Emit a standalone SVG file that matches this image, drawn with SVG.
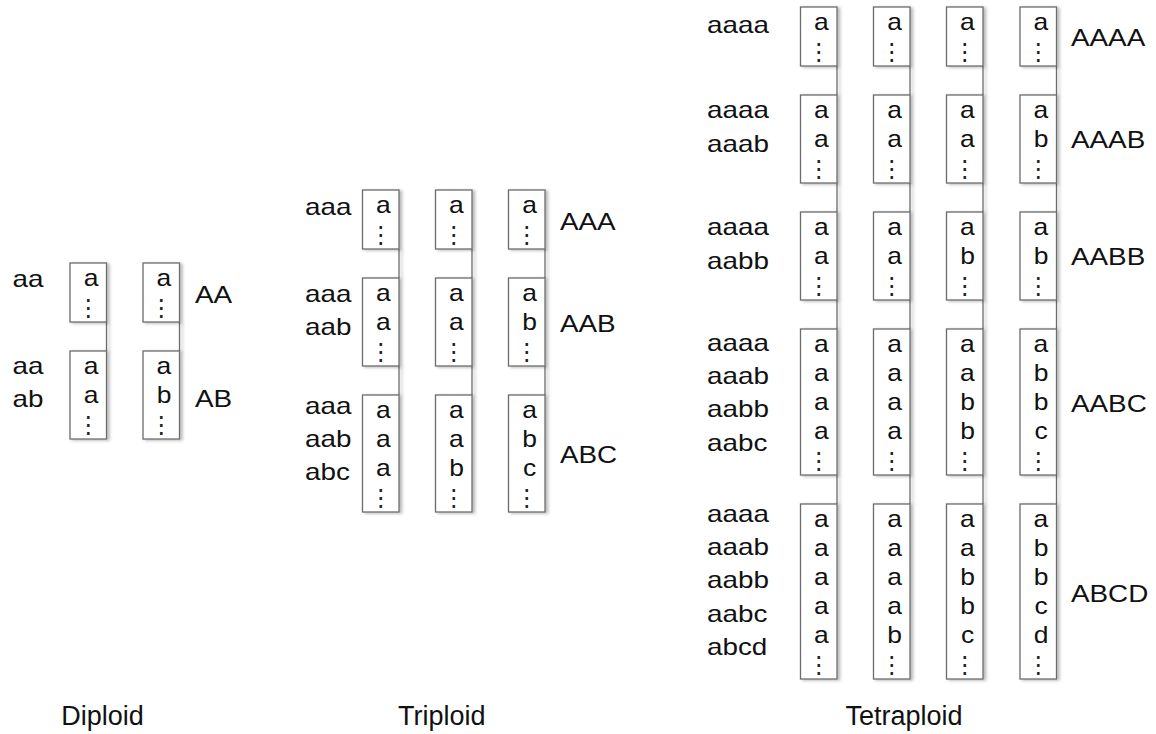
<svg xmlns="http://www.w3.org/2000/svg" width="1156" height="734" viewBox="0 0 1156 734">
  <defs>
    <filter id="shade" filterUnits="userSpaceOnUse" x="0" y="0" width="1156" height="734">
      <feDropShadow dx="2.5" dy="1" stdDeviation="1.4" flood-color="#000" flood-opacity="0.28"/>
    </filter>
  </defs>
  <style>
    rect { fill: #fff; stroke: #6c6c6c; stroke-width: 1.3; filter: url(#shade); }
    .link line { stroke: #6c6c6c; stroke-width: 1.3; filter: url(#shade); }
    text { font-family: "Liberation Sans", Arial, sans-serif; fill: #111; }
    .c { font-size: 23px; text-anchor: middle; transform-box: fill-box; transform-origin: center; transform: scaleX(1.15); }
    .v { font-family: "DejaVu Sans", sans-serif; font-size: 24px; text-anchor: middle; fill: #222; }
    .l { font-size: 24px; transform-box: fill-box; transform-origin: left center; transform: scaleX(1.16); }
    .t { font-size: 27px; text-anchor: middle; }
  </style>

  <!-- links between stacked boxes (right-hand rail of each column) -->
  <g id="connectors" class="link">
    <line x1="106.5" y1="322" x2="106.5" y2="351"/>
    <line x1="179.5" y1="322" x2="179.5" y2="351"/>

    <line x1="399" y1="249" x2="399" y2="278"/>
    <line x1="472" y1="249" x2="472" y2="278"/>
    <line x1="545" y1="249" x2="545" y2="278"/>
    <line x1="399" y1="366" x2="399" y2="395"/>
    <line x1="472" y1="366" x2="472" y2="395"/>
    <line x1="545" y1="366" x2="545" y2="395"/>

    <line x1="837" y1="66" x2="837" y2="95"/>
    <line x1="910" y1="66" x2="910" y2="95"/>
    <line x1="983" y1="66" x2="983" y2="95"/>
    <line x1="1056.5" y1="66" x2="1056.5" y2="95"/>
    <line x1="837" y1="183" x2="837" y2="212"/>
    <line x1="910" y1="183" x2="910" y2="212"/>
    <line x1="983" y1="183" x2="983" y2="212"/>
    <line x1="1056.5" y1="183" x2="1056.5" y2="212"/>
    <line x1="837" y1="300" x2="837" y2="329"/>
    <line x1="910" y1="300" x2="910" y2="329"/>
    <line x1="983" y1="300" x2="983" y2="329"/>
    <line x1="1056.5" y1="300" x2="1056.5" y2="329"/>
    <line x1="837" y1="475" x2="837" y2="504"/>
    <line x1="910" y1="475" x2="910" y2="504"/>
    <line x1="983" y1="475" x2="983" y2="504"/>
    <line x1="1056.5" y1="475" x2="1056.5" y2="504"/>
  </g>

  <!-- ===== Diploid ===== -->
  <g id="di-r1-c1"><rect x="70" y="263" width="36.5" height="59"/><text class="c" x="91" y="286.5">a</text><text class="v" x="88.3" y="316">⋮</text></g>
  <g id="di-r1-c2"><rect x="143" y="263" width="36.5" height="59"/><text class="c" x="164" y="286.5">a</text><text class="v" x="161.3" y="316">⋮</text></g>
  <g id="di-r2-c1"><rect x="70" y="351" width="36.5" height="88"/><text class="c" x="91" y="374.5">a</text><text class="c" x="91" y="403.5">a</text><text class="v" x="88.3" y="433">⋮</text></g>
  <g id="di-r2-c2"><rect x="143" y="351" width="36.5" height="88"/><text class="c" x="164" y="374.5">a</text><text class="c" x="164" y="403.5">b</text><text class="v" x="161.3" y="433">⋮</text></g>

  <g id="di-labels">
    <text class="l" x="12.5" y="287.3">aa</text>
    <text class="l" x="12.5" y="374">aa</text>
    <text class="l" x="12.5" y="406.7">ab</text>
    <text class="l" x="195" y="303.3">AA</text>
    <text class="l" x="195" y="406.7">AB</text>
  </g>

  <!-- ===== Triploid ===== -->
  <g id="tri-r1-c1"><rect x="362.5" y="190" width="36.5" height="59"/><text class="c" x="383.5" y="213.5">a</text><text class="v" x="380.8" y="243">⋮</text></g>
  <g id="tri-r1-c2"><rect x="435.5" y="190" width="36.5" height="59"/><text class="c" x="456.5" y="213.5">a</text><text class="v" x="453.8" y="243">⋮</text></g>
  <g id="tri-r1-c3"><rect x="508.5" y="190" width="36.5" height="59"/><text class="c" x="529.5" y="213.5">a</text><text class="v" x="526.8" y="243">⋮</text></g>

  <g id="tri-r2-c1"><rect x="362.5" y="278" width="36.5" height="88"/><text class="c" x="383.5" y="301.5">a</text><text class="c" x="383.5" y="330.5">a</text><text class="v" x="380.8" y="360">⋮</text></g>
  <g id="tri-r2-c2"><rect x="435.5" y="278" width="36.5" height="88"/><text class="c" x="456.5" y="301.5">a</text><text class="c" x="456.5" y="330.5">a</text><text class="v" x="453.8" y="360">⋮</text></g>
  <g id="tri-r2-c3"><rect x="508.5" y="278" width="36.5" height="88"/><text class="c" x="529.5" y="301.5">a</text><text class="c" x="529.5" y="330.5">b</text><text class="v" x="526.8" y="360">⋮</text></g>

  <g id="tri-r3-c1"><rect x="362.5" y="395" width="36.5" height="117"/><text class="c" x="383.5" y="418.5">a</text><text class="c" x="383.5" y="447.5">a</text><text class="c" x="383.5" y="476.5">a</text><text class="v" x="380.8" y="506">⋮</text></g>
  <g id="tri-r3-c2"><rect x="435.5" y="395" width="36.5" height="117"/><text class="c" x="456.5" y="418.5">a</text><text class="c" x="456.5" y="447.5">a</text><text class="c" x="456.5" y="476.5">b</text><text class="v" x="453.8" y="506">⋮</text></g>
  <g id="tri-r3-c3"><rect x="508.5" y="395" width="36.5" height="117"/><text class="c" x="529.5" y="418.5">a</text><text class="c" x="529.5" y="447.5">b</text><text class="c" x="529.5" y="476.5">c</text><text class="v" x="526.8" y="506">⋮</text></g>

  <g id="tri-labels">
    <text class="l" x="305" y="215">aaa</text>
    <text class="l" x="305" y="301.7">aaa</text>
    <text class="l" x="305" y="335">aab</text>
    <text class="l" x="305" y="414.3">aaa</text>
    <text class="l" x="305" y="447">aab</text>
    <text class="l" x="305" y="480">abc</text>
    <text class="l" x="560" y="230">AAA</text>
    <text class="l" x="560" y="331.7">AAB</text>
    <text class="l" x="560" y="463.3">ABC</text>
  </g>

  <!-- ===== Tetraploid ===== -->
  <g id="te-r1-c1"><rect x="800.5" y="7" width="36.5" height="59"/><text class="c" x="821.5" y="30.5">a</text><text class="v" x="818.8" y="60">⋮</text></g>
  <g id="te-r1-c2"><rect x="873.5" y="7" width="36.5" height="59"/><text class="c" x="894.5" y="30.5">a</text><text class="v" x="891.8" y="60">⋮</text></g>
  <g id="te-r1-c3"><rect x="946.5" y="7" width="36.5" height="59"/><text class="c" x="967.5" y="30.5">a</text><text class="v" x="964.8" y="60">⋮</text></g>
  <g id="te-r1-c4"><rect x="1020" y="7" width="36.5" height="59"/><text class="c" x="1041" y="30.5">a</text><text class="v" x="1038.3" y="60">⋮</text></g>

  <g id="te-r2-c1"><rect x="800.5" y="95" width="36.5" height="88"/><text class="c" x="821.5" y="118.5">a</text><text class="c" x="821.5" y="147.5">a</text><text class="v" x="818.8" y="177">⋮</text></g>
  <g id="te-r2-c2"><rect x="873.5" y="95" width="36.5" height="88"/><text class="c" x="894.5" y="118.5">a</text><text class="c" x="894.5" y="147.5">a</text><text class="v" x="891.8" y="177">⋮</text></g>
  <g id="te-r2-c3"><rect x="946.5" y="95" width="36.5" height="88"/><text class="c" x="967.5" y="118.5">a</text><text class="c" x="967.5" y="147.5">a</text><text class="v" x="964.8" y="177">⋮</text></g>
  <g id="te-r2-c4"><rect x="1020" y="95" width="36.5" height="88"/><text class="c" x="1041" y="118.5">a</text><text class="c" x="1041" y="147.5">b</text><text class="v" x="1038.3" y="177">⋮</text></g>

  <g id="te-r3-c1"><rect x="800.5" y="212" width="36.5" height="88"/><text class="c" x="821.5" y="235.5">a</text><text class="c" x="821.5" y="264.5">a</text><text class="v" x="818.8" y="294">⋮</text></g>
  <g id="te-r3-c2"><rect x="873.5" y="212" width="36.5" height="88"/><text class="c" x="894.5" y="235.5">a</text><text class="c" x="894.5" y="264.5">a</text><text class="v" x="891.8" y="294">⋮</text></g>
  <g id="te-r3-c3"><rect x="946.5" y="212" width="36.5" height="88"/><text class="c" x="967.5" y="235.5">a</text><text class="c" x="967.5" y="264.5">b</text><text class="v" x="964.8" y="294">⋮</text></g>
  <g id="te-r3-c4"><rect x="1020" y="212" width="36.5" height="88"/><text class="c" x="1041" y="235.5">a</text><text class="c" x="1041" y="264.5">b</text><text class="v" x="1038.3" y="294">⋮</text></g>

  <g id="te-r4-c1"><rect x="800.5" y="329" width="36.5" height="146"/><text class="c" x="821.5" y="352.5">a</text><text class="c" x="821.5" y="381.5">a</text><text class="c" x="821.5" y="410.5">a</text><text class="c" x="821.5" y="439.5">a</text><text class="v" x="818.8" y="469">⋮</text></g>
  <g id="te-r4-c2"><rect x="873.5" y="329" width="36.5" height="146"/><text class="c" x="894.5" y="352.5">a</text><text class="c" x="894.5" y="381.5">a</text><text class="c" x="894.5" y="410.5">a</text><text class="c" x="894.5" y="439.5">a</text><text class="v" x="891.8" y="469">⋮</text></g>
  <g id="te-r4-c3"><rect x="946.5" y="329" width="36.5" height="146"/><text class="c" x="967.5" y="352.5">a</text><text class="c" x="967.5" y="381.5">a</text><text class="c" x="967.5" y="410.5">b</text><text class="c" x="967.5" y="439.5">b</text><text class="v" x="964.8" y="469">⋮</text></g>
  <g id="te-r4-c4"><rect x="1020" y="329" width="36.5" height="146"/><text class="c" x="1041" y="352.5">a</text><text class="c" x="1041" y="381.5">b</text><text class="c" x="1041" y="410.5">b</text><text class="c" x="1041" y="439.5">c</text><text class="v" x="1038.3" y="469">⋮</text></g>

  <g id="te-r5-c1"><rect x="800.5" y="504" width="36.5" height="175"/><text class="c" x="821.5" y="527.5">a</text><text class="c" x="821.5" y="556.5">a</text><text class="c" x="821.5" y="585.5">a</text><text class="c" x="821.5" y="614.5">a</text><text class="c" x="821.5" y="643.5">a</text><text class="v" x="818.8" y="673">⋮</text></g>
  <g id="te-r5-c2"><rect x="873.5" y="504" width="36.5" height="175"/><text class="c" x="894.5" y="527.5">a</text><text class="c" x="894.5" y="556.5">a</text><text class="c" x="894.5" y="585.5">a</text><text class="c" x="894.5" y="614.5">a</text><text class="c" x="894.5" y="643.5">b</text><text class="v" x="891.8" y="673">⋮</text></g>
  <g id="te-r5-c3"><rect x="946.5" y="504" width="36.5" height="175"/><text class="c" x="967.5" y="527.5">a</text><text class="c" x="967.5" y="556.5">a</text><text class="c" x="967.5" y="585.5">b</text><text class="c" x="967.5" y="614.5">b</text><text class="c" x="967.5" y="643.5">c</text><text class="v" x="964.8" y="673">⋮</text></g>
  <g id="te-r5-c4"><rect x="1020" y="504" width="36.5" height="175"/><text class="c" x="1041" y="527.5">a</text><text class="c" x="1041" y="556.5">b</text><text class="c" x="1041" y="585.5">b</text><text class="c" x="1041" y="614.5">c</text><text class="c" x="1041" y="643.5">d</text><text class="v" x="1038.3" y="673">⋮</text></g>

  <g id="te-labels">
    <text class="l" x="707" y="33.5">aaaa</text>
    <text class="l" x="707" y="118.3">aaaa</text>
    <text class="l" x="707" y="151.7">aaab</text>
    <text class="l" x="707" y="235.3">aaaa</text>
    <text class="l" x="707" y="268.7">aabb</text>
    <text class="l" x="707" y="350.7">aaaa</text>
    <text class="l" x="707" y="384">aaab</text>
    <text class="l" x="707" y="417.3">aabb</text>
    <text class="l" x="707" y="450.7">aabc</text>
    <text class="l" x="707" y="521.7">aaaa</text>
    <text class="l" x="707" y="555">aaab</text>
    <text class="l" x="707" y="588.3">aabb</text>
    <text class="l" x="707" y="621.7">aabc</text>
    <text class="l" x="707" y="655">abcd</text>
    <text class="l" x="1071" y="46.5">AAAA</text>
    <text class="l" x="1071" y="148.3">AAAB</text>
    <text class="l" x="1071" y="265.3">AABB</text>
    <text class="l" x="1071" y="411.7">AABC</text>
    <text class="l" x="1071" y="601.7">ABCD</text>
  </g>

  <!-- ploidy captions -->
  <g id="captions">
    <text class="t" x="102.5" y="725">Diploid</text>
    <text class="t" x="441.7" y="725">Triploid</text>
    <text class="t" x="904" y="725">Tetraploid</text>
  </g>
</svg>
